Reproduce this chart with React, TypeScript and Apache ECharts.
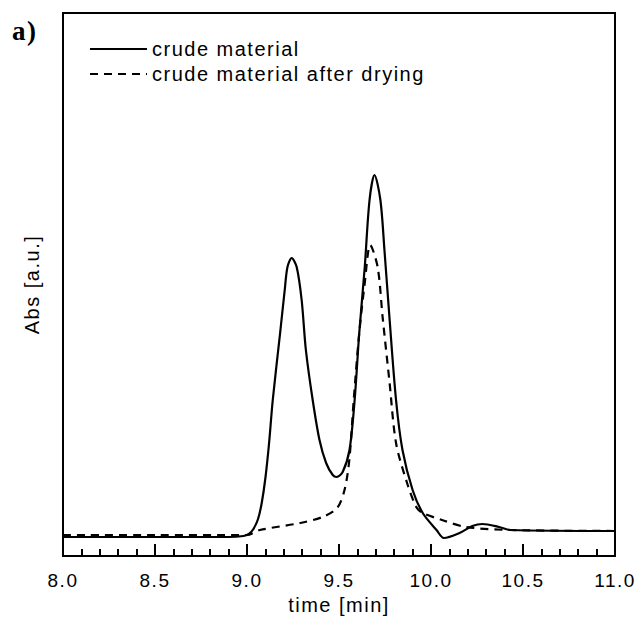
import React, { useEffect, useRef } from "react";
import * as echarts from "echarts";

const seriesNames = ["crude material", "crude material after drying"];

const solidTime = [8.0, 8.5, 8.9, 8.98, 9.01, 9.035, 9.06, 9.08, 9.1, 9.12, 9.14, 9.18, 9.205, 9.22, 9.243, 9.27, 9.297, 9.32, 9.357, 9.394, 9.43, 9.466, 9.487, 9.52, 9.557, 9.585, 9.61, 9.64, 9.666, 9.693, 9.725, 9.747, 9.774, 9.81, 9.845, 9.9, 9.955, 10.03, 10.07, 10.155, 10.225, 10.28, 10.37, 10.43, 11.0];
const solidAbs = [19, 19, 19, 20, 22, 27, 37, 53, 78, 113, 156, 223, 266, 289, 298, 289, 256, 206, 156, 116, 93, 81, 79, 84, 106, 156, 223, 289, 356, 381, 356, 306, 239, 156, 106, 66, 43, 26, 18, 23, 30, 32, 29, 26, 25];

const dashedTime = [8.0, 8.5, 9.0, 9.07, 9.29, 9.41, 9.49, 9.53, 9.556, 9.58, 9.61, 9.64, 9.67, 9.71, 9.737, 9.775, 9.81, 9.87, 9.92, 9.955, 10.06, 10.19, 10.43, 11.0];
const dashedAbs = [21, 21, 21, 26, 33, 39, 48, 66, 96, 156, 223, 273, 311, 289, 239, 173, 113, 73, 49, 43, 36, 29, 26, 25];

const xTicks = [8.0, 8.5, 9.0, 9.5, 10.0, 10.5, 11.0];

export default function App() {
  const ref = useRef<HTMLDivElement>(null);
  useEffect(() => {
    if (!ref.current) return;
    const chart = echarts.init(ref.current, null, { renderer: "svg" });
    const font = "'Liberation Sans', Arial, sans-serif";
    chart.setOption({
      animation: false,
      backgroundColor: "#fff",
      title: {
        text: "a)",
        left: 7,
        top: 12,
        textStyle: { fontFamily: "'Liberation Serif', 'Times New Roman', serif", fontWeight: "bold", fontSize: 27, color: "#000" },
      },
      legend: {
        orient: "vertical",
        left: 84,
        top: 34,
        itemWidth: 57,
        itemHeight: 14,
        itemGap: 5,
        itemStyle: { opacity: 0 },
        textStyle: { fontFamily: font, fontSize: 20, color: "#000" },
        data: seriesNames.map((n) => ({ name: n })),
      },
      grid: {
        left: 63,
        right: 21,
        top: 13,
        bottom: 73,
        show: true,
        borderColor: "#000",
        borderWidth: 2,
        backgroundColor: "transparent",
      },
      xAxis: {
        type: "value",
        min: 8,
        max: 11,
        interval: 0.5,
        name: "time [min]",
        nameLocation: "middle",
        nameGap: 33,
        nameTextStyle: { fontFamily: font, fontSize: 20, color: "#000" },
        axisLine: { show: true, lineStyle: { color: "#000", width: 2 } },
        axisTick: { show: true, inside: true, length: 12, lineStyle: { color: "#000", width: 2 } },
        minorTick: { show: true, splitNumber: 5, length: 7, lineStyle: { color: "#000", width: 2 } },
        splitLine: { show: false },
        minorSplitLine: { show: false },
        axisLabel: {
          fontFamily: font,
          fontSize: 19,
          color: "#000",
          margin: 15,
          formatter: (v: number) => (xTicks.some((t) => Math.abs(t - v) < 1e-6) ? v.toFixed(1) : ""),
        },
      },
      yAxis: {
        type: "value",
        min: 0,
        max: 543,
        name: "Abs [a.u.]",
        nameLocation: "middle",
        nameGap: 21,
        nameRotate: 90,
        nameTextStyle: { fontFamily: font, fontSize: 20, color: "#000" },
        axisLine: { show: false },
        axisTick: { show: false },
        axisLabel: { show: false },
        splitLine: { show: false },
      },
      series: [
        {
          name: seriesNames[0],
          type: "line",
          smooth: 0.3,
          symbol: "none",
          data: solidTime.map((t, i) => [t, solidAbs[i]]),
          lineStyle: { color: "#000", width: 2.2, type: "solid" },
          itemStyle: { color: "#000" },
        },
        {
          name: seriesNames[1],
          type: "line",
          smooth: 0.3,
          symbol: "none",
          data: dashedTime.map((t, i) => [t, dashedAbs[i]]),
          lineStyle: { color: "#000", width: 2.2, type: [8, 6] },
          itemStyle: { color: "#000" },
        },
      ],
    });
    return () => chart.dispose();
  }, []);
  return (
    <div
      ref={ref}
      style={{ width: 636, height: 629, position: "absolute", left: 0, top: 0, letterSpacing: "1.5px" }}
    />
  );
}
